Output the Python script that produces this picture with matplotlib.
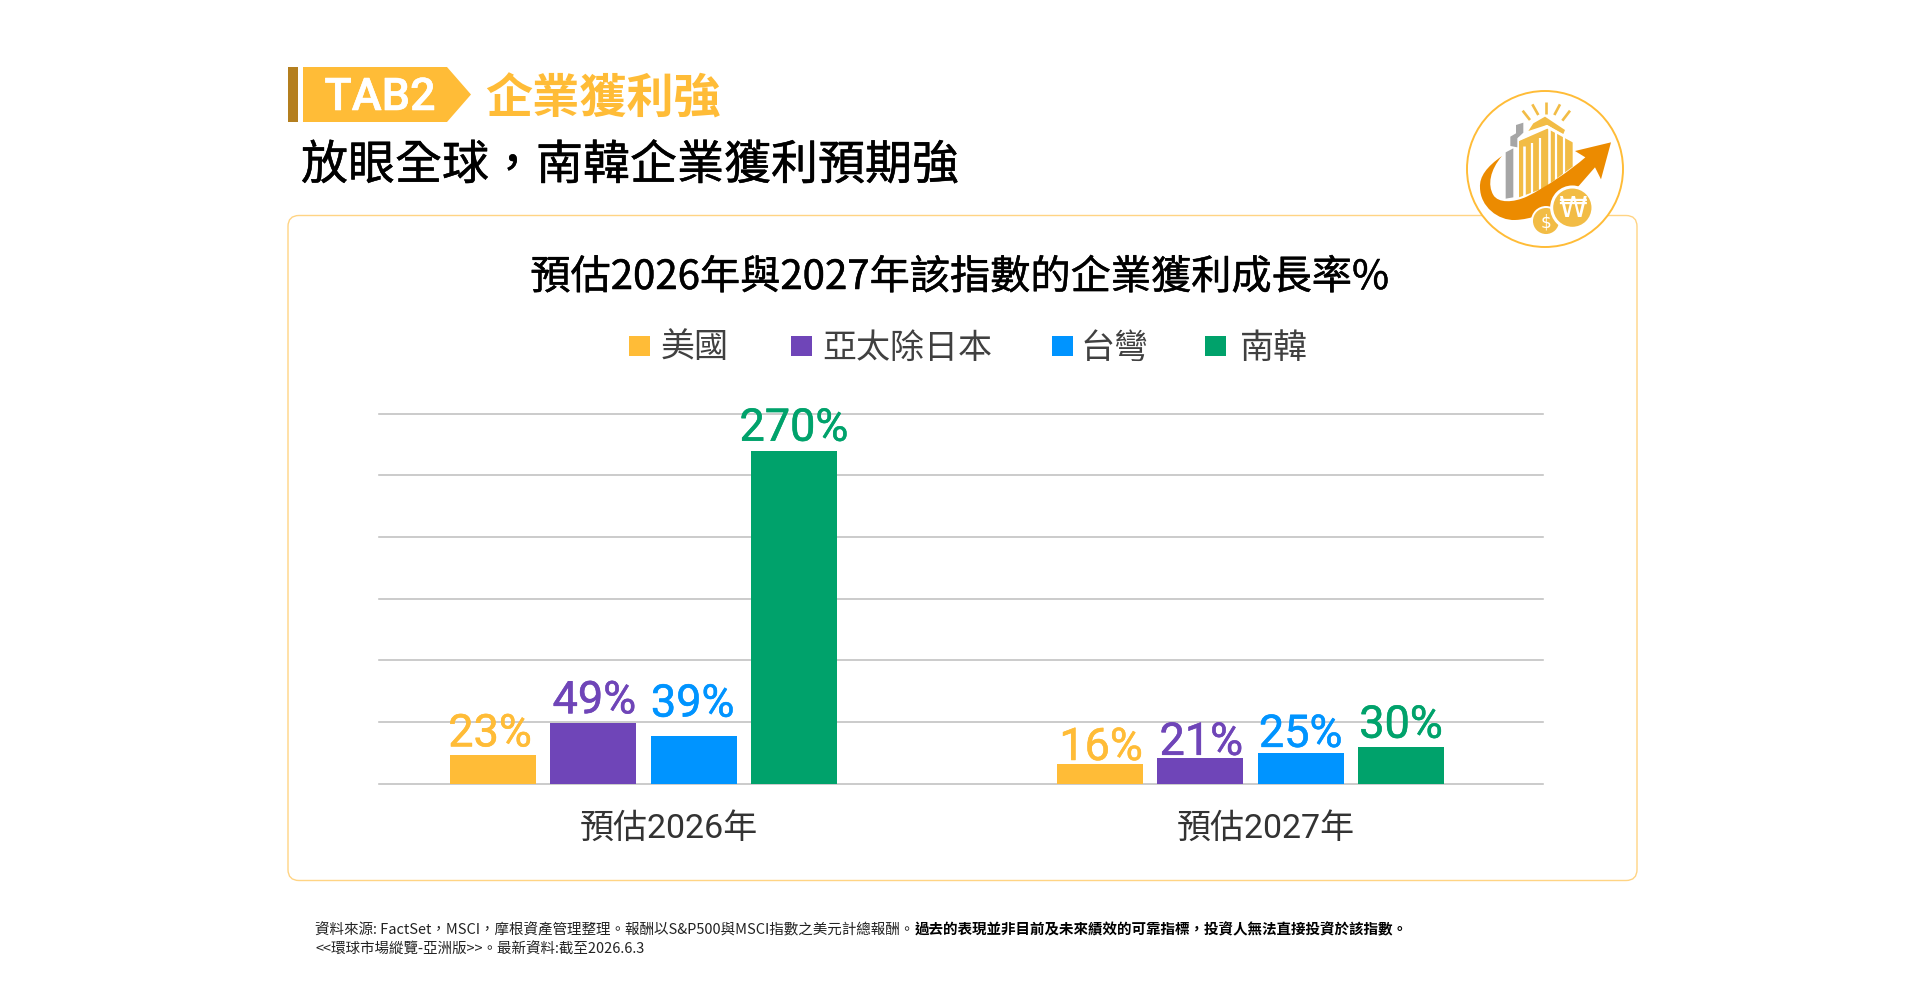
import matplotlib
matplotlib.use("Agg")
import matplotlib.pyplot as plt
import matplotlib.patheffects as pe
from matplotlib.patches import Rectangle, Polygon, Circle, FancyBboxPatch, PathPatch
from matplotlib.path import Path

plt.rcParams['font.family'] = ['Noto Sans CJK TC', 'DejaVu Sans']

# Chart data
categories = ['預估2026年', '預估2027年']
series_names = ['美國', '亞太除日本', '台彎', '南韓']
us_values = [23, 16]
apac_values = [49, 21]
taiwan_values = [39, 25]
korea_values = [270, 30]
series_colors = ['#FFBC37', '#6F45B8', '#0094FF', '#00A26B']
y_ticks = [0, 50, 100, 150, 200, 250, 300]

header_tag = 'TAB2'
header_topic = '企業獲利強'
headline = '放眼全球，南韓企業獲利預期強'
chart_title = '預估2026年與2027年該指數的企業獲利成長率%'
note_regular = '資料來源: FactSet，MSCI，摩根資產管理整理。報酬以S&P500與MSCI指數之美元計總報酬。'
note_bold = '過去的表現並非目前及未來績效的可靠指標，投資人無法直接投資於該指數。'
note_second = '<<環球市場縱覽-亞洲版>>。最新資料:截至2026.6.3'

LATIN_CJK = ['Roboto', 'Noto Sans CJK TC']
PX = 0.72  # points per pixel at 100 dpi

fig = plt.figure(figsize=(19.2, 10), dpi=100, facecolor='white')

# Full-figure layer in pixel units for the card, header and emblem
bg = fig.add_axes([0, 0, 1, 1], zorder=0)
bg.set_xlim(0, 1920)
bg.set_ylim(1000, 0)
bg.axis('off')

r = 11
bg.add_patch(FancyBboxPatch((288 + r, 215.5 + r), 1349 - 2 * r, 665 - 2 * r,
                            boxstyle=f'round,pad={r},rounding_size={r}',
                            fc='white', ec='#FFD484', lw=1.0))

# Section header
heavier = [pe.withStroke(linewidth=0.35, foreground='black')]
bg.add_patch(Rectangle((288, 67), 10, 55, fc='#B47F1F', ec='none'))
bg.add_patch(Polygon([(303, 67), (447, 67), (471, 94.5), (447, 122), (303, 122)],
                     closed=True, fc='#FFBC37', ec='none'))
t = bg.text(380, 98, header_tag, color='white', fontsize=45 * PX, family='Roboto',
            weight='medium', ha='center', va='center')
t.set_path_effects([pe.withStroke(linewidth=0.4, foreground='white')])
bg.text(485.5, 100, header_topic, color='#FFBC37', fontsize=47.2 * PX, weight='bold',
        ha='left', va='center')
t = bg.text(301, 166, headline, color='black', fontsize=47 * PX,
            ha='left', va='center')
t.set_path_effects(heavier)

t = bg.text(960, 277.5, chart_title, color='black', fontsize=40.2 * PX,
            ha='center', va='center')
t.set_path_effects(heavier)

# Legend row
swatch_x = [629, 791, 1052, 1205]
label_x = [661, 822, 1081, 1240]
for name, color, sx, lx in zip(series_names, series_colors, swatch_x, label_x):
    bg.add_patch(Rectangle((sx, 335.5), 21, 20.5, fc=color, ec='none'))
    bg.text(lx, 348, name, color='#404040', fontsize=34 * PX, ha='left', va='center')

# Footnotes
first = bg.text(315, 930, note_regular, color='#222222', fontsize=14.55 * PX,
                ha='left', va='center')
bg.annotate(note_bold, xy=(1, 0), xycoords=first, color='black', fontsize=14.55 * PX,
            weight='bold', ha='left', va='bottom')
bg.text(315, 949.5, note_second, color='#222222', fontsize=14.55 * PX, ha='left', va='center')


# Emblem, sketched on a 3x grid anchored at (1430, 70)
def ex(p):
    return (1430 + p[0] / 3, 70 + p[1] / 3)


def poly(points, color, z=3):
    bg.add_patch(Polygon([ex(p) for p in points], closed=True, fc=color, ec='none', zorder=z))


GOLD = '#F2BC45'
ORANGE = '#EC8B00'
GREY = '#A6A6A6'
bg.add_patch(Circle(ex((345, 297)), 78, fc='white', ec='#FFBC37', lw=1.4, zorder=2))

for a, b in [((300, 150), (278, 122)), ((325, 135), (307, 103)), ((349, 132), (349, 95)),
             ((373, 135), (390, 103)), ((397, 152), (420, 122))]:
    pa, pb = ex(a), ex(b)
    bg.plot([pa[0], pb[0]], [pa[1], pb[1]], color=GOLD, lw=1.9, zorder=3,
            solid_capstyle='butt')

poly([(227, 247), (250, 235), (250, 382), (227, 386)], GREY)
poly([(241, 200), (258, 190), (258, 165), (280, 158), (280, 188), (262, 205),
      (262, 232), (241, 228)], GREY)

poly([(295, 183), (310, 160), (345, 140), (405, 180), (400, 192), (350, 165)], GOLD)
poly([(267, 212), (352, 172), (428, 215), (428, 290), (340, 355), (267, 382)], GOLD)
for top, bottom, w in [((283, 228), (283, 382), 7), ((306, 218), (306, 372), 6),
                       ((331, 205), (331, 360), 6), ((358, 172), (358, 345), 7),
                       ((377, 182), (377, 332), 6), ((403, 198), (403, 312), 6)]:
    pa, pb = ex(top), ex(bottom)
    bg.plot([pa[0], pb[0]], [pa[1], pb[1]], color='white', lw=w / 3 * PX * 1.1, zorder=4,
            solid_capstyle='butt')
poly([(265, 203), (352, 165), (430, 212), (430, 218), (352, 176), (265, 214)], 'white', z=4)

swoosh_pts = [(216, 258), (170, 290), (148, 320), (150, 352),
              (150, 410), (205, 452), (255, 450),
              (305, 448), (350, 430), (385, 395),
              (400, 378), (440, 355), (495, 292), (513, 328), (543, 217), (435, 243), (466, 262),
              (420, 302), (350, 350), (290, 380),
              (250, 398), (205, 400), (190, 375),
              (172, 345), (180, 300), (216, 258)]
codes = [Path.MOVETO] + [Path.CURVE4] * 9 + [Path.LINETO] * 7 + [Path.CURVE4] * 8 + [Path.CLOSEPOLY]
bg.add_patch(PathPatch(Path([ex(p) for p in swoosh_pts], codes), fc=ORANGE, ec='none', zorder=5))

bg.add_patch(Circle(ex((348, 453)), 42 / 3, fc=GOLD, ec='white', lw=1.4, zorder=6))
bg.add_patch(Circle(ex((427, 413)), 62 / 3, fc=GOLD, ec='white', lw=2.2, zorder=6))
cx, cy = ex((348, 456))
bg.text(cx, cy, '$', color='white', fontsize=17 * PX, family='DejaVu Sans',
        ha='center', va='center', zorder=7)
cx, cy = ex((427, 418))
bg.text(cx, cy, '₩', color='white', fontsize=29 * PX, family='DejaVu Sans',
        ha='center', va='center', zorder=7)

# Bar chart
ax = fig.add_axes([378.5 / 1920, 1 - 783.7 / 1000, (1542.5 - 378.5) / 1920, (783.7 - 413.7) / 1000],
                  zorder=1)
ax.patch.set_alpha(0)
group_step = 607
ax.set_xlim(-265 / group_step, 1 + 292 / group_step)
ax.set_ylim(0, 300)
for spine in ax.spines.values():
    spine.set_visible(False)
ax.set_yticks(y_ticks)
ax.tick_params(axis='y', length=0, labelleft=False)
ax.grid(axis='y', color='#C0C0C0', lw=1.15, zorder=0)
for line in ax.get_ygridlines():
    line.set_clip_on(False)
ax.set_axisbelow(True)

all_values = [us_values, apac_values, taiwan_values, korea_values]
bar_step = 100.3 / group_step
bar_width = 85.8 / group_step
# Value labels sit at hand-tuned distances above their bars, in pixels (per series, per group)
label_gaps = [[9, 4], [10, 3], [19, 6], [10, 9]]
label_shifts = [[-3, 1], [1, 1], [-1, 0], [0, 0]]
for i, (vals, color) in enumerate(zip(all_values, series_colors)):
    xs = [g + (i - 1.5) * bar_step for g in range(len(categories))]
    bars = ax.bar(xs, vals, width=bar_width, color=color, zorder=2)
    for j, (bar, v) in enumerate(zip(bars, vals)):
        t = ax.annotate(f'{v}%', xy=(bar.get_x() + bar.get_width() / 2, v),
                        xytext=(label_shifts[i][j] * PX, label_gaps[i][j] * PX),
                        textcoords='offset points',
                        ha='center', va='baseline', color=color,
                        fontsize=45 * PX, family=LATIN_CJK, zorder=3)
        t.set_path_effects([pe.withStroke(linewidth=0.4, foreground=color)])

ax.set_xticks([25.5 / group_step, 1 + 15.5 / group_step])
ax.set_xticklabels(categories, fontsize=34 * PX, color='#333333', family=LATIN_CJK)
ax.tick_params(axis='x', length=0, pad=29 * PX)

fig.savefig('out.png', dpi=100, facecolor='white')
